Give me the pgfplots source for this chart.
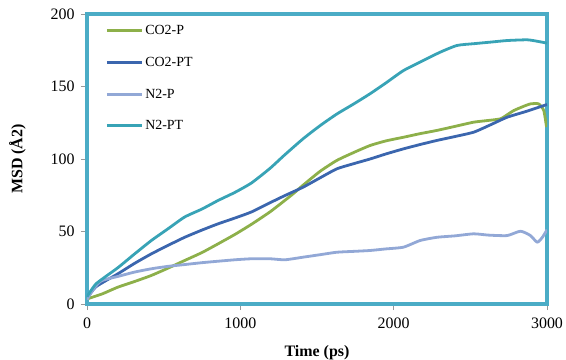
\documentclass[border=0pt]{standalone}
\usepackage{pgfplots}
\pgfplotsset{compat=1.18}
\usepackage{fontspec}
\setmainfont{Liberation Serif}
\definecolor{frameC}{HTML}{4BACC6}
\definecolor{cA}{HTML}{8DB04A}
\definecolor{cB}{HTML}{3B66AE}
\definecolor{cC}{HTML}{92A8D6}
\definecolor{cD}{HTML}{38A3B6}
\begin{document}
\begin{tikzpicture}
\useasboundingbox (-87bp,-56bp) rectangle (479bp,304bp);
\begin{axis}[
  scale only axis, width=460bp, height=290bp,
  at={(0,0)}, anchor=south west,
  xmin=0, xmax=3000, ymin=0, ymax=200,
  xtick={0,1000,2000,3000}, ytick={0,50,100,150,200},
  xtick pos=bottom, ytick pos=left, tick align=outside,
  major tick length=6bp,
  tick style={draw=gray!80, line width=0.6bp},
  axis line style={draw=frameC, line width=3.5bp},
  ticklabel style={font=\fontsize{16}{18}\selectfont},
  xticklabel style={yshift=-4bp},
  yticklabel style={xshift=-3bp},
  /pgf/number format/assume math mode=true,
  /pgf/number format/1000 sep={},
  xlabel={\textbf{Time (ps)}}, ylabel={\textbf{MSD (Å2)}},
  label style={font=\fontsize{16}{18}\selectfont},
  xlabel style={yshift=-10bp},
  ylabel style={yshift=18bp},
  legend style={draw=none, fill=none, at={(0.035,0.975)}, anchor=north west,
    font=\fontsize{14}{16}\selectfont, row sep=17bp, inner sep=2bp},
  legend cell align=left,
  legend image code/.code={\draw[#1, line width=3bp] (0bp,0bp) -- (35bp,0bp);},
  every axis plot/.append style={line width=2.8bp, line join=round, smooth, tension=0.35},
]
\addplot[cA] coordinates {(0,3.5) (100,7) (201,11.6) (310,15.5) (420,19.7) (530,24.8) (637,30) (750,35.5) (855,41.5) (965,48) (1073,55) (1193,63.5) (1291,71.5) (1350,76.5) (1410,82) (1520,91.5) (1629,99) (1740,104.5) (1846,109.3) (1950,112.5) (2064,115) (2173,117.5) (2282,119.7) (2400,122.5) (2522,125.4) (2610,126.5) (2696,127.7) (2740,130.5) (2783,133.4) (2840,136) (2892,138) (2946,138) (2979,133.4) (2997,122)};
\addlegendentry{CO2-P}
\addplot[cB] coordinates {(0,4) (60,12) (201,20.8) (310,28) (420,34.6) (530,40.5) (637,46) (750,51) (855,55.3) (965,59.3) (1073,63.5) (1193,69.8) (1291,74.8) (1410,80.6) (1520,87) (1629,93.2) (1740,96.8) (1846,100) (1950,103.5) (2064,107) (2173,110) (2282,112.8) (2400,115.5) (2522,118.5) (2630,123.5) (2740,128.8) (2870,133) (3000,137.6)};
\addlegendentry{CO2-PT}
\addplot[cC] coordinates {(0,3) (40,10) (93,16) (201,19) (310,22) (420,24.3) (530,26) (637,27.2) (750,28.5) (855,29.5) (965,30.5) (1073,31.2) (1193,31.2) (1291,30.5) (1410,32.3) (1520,34) (1629,35.7) (1740,36.3) (1846,36.9) (1950,38) (2064,39.2) (2173,43.8) (2282,46) (2400,47) (2522,48.4) (2620,47.5) (2740,47.2) (2827,50.2) (2892,47.2) (2936,42.6) (2970,46) (3000,51.2)};
\addlegendentry{N2-P}
\addplot[cD] coordinates {(0,5) (60,14) (201,25) (310,34.5) (420,43.8) (530,52) (637,60) (750,65.5) (855,71.4) (965,77) (1073,83.5) (1193,93.5) (1291,103) (1410,114) (1520,123) (1629,131) (1740,138) (1846,145) (1950,152.5) (2064,161) (2195,168) (2304,173.7) (2413,178.3) (2520,179.5) (2631,180.6) (2740,181.7) (2871,182.2) (2936,181.2) (3000,179.9)};
\addlegendentry{N2-PT}
\end{axis}
\end{tikzpicture}
\end{document}
